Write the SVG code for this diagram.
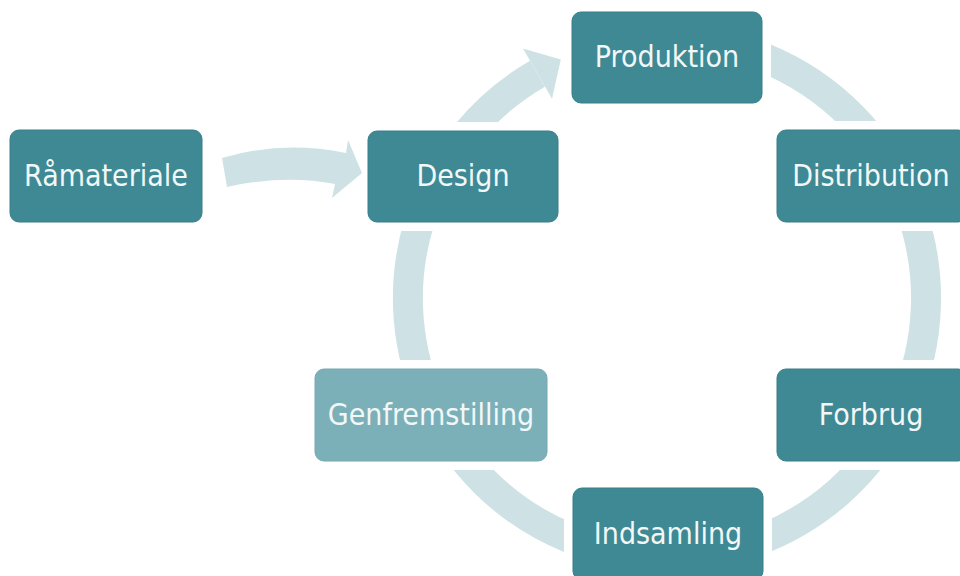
<svg xmlns="http://www.w3.org/2000/svg" width="960" height="576" viewBox="0 0 960 576">
  <style>
    .box { fill: #3E8994; stroke: #367F8A; stroke-width: 1; }
    .box.light { fill: #7BB0B9; stroke: #74A9B2; }
    .lbl { font-family: "DejaVu Sans Condensed", "DejaVu Sans", "Liberation Sans", sans-serif; font-stretch: condensed; font-size: 30px; fill: #F2F7F7; text-anchor: middle; }
    .ring { fill: none; stroke: #CEE2E6; stroke-width: 30; }
    .flow { fill: #CEE2E6; }
  </style>
  <defs>
    <mask id="gaps" maskUnits="userSpaceOnUse" x="0" y="0" width="960" height="576">
      <rect x="0" y="0" width="960" height="576" fill="#fff"/>
      <rect x="359" y="122" width="208" height="109" rx="16" fill="#000"/>
      <rect x="563" y="3" width="208" height="109" rx="16" fill="#000"/>
      <rect x="768" y="121" width="208" height="110" rx="16" fill="#000"/>
      <rect x="768" y="360" width="208" height="110" rx="16" fill="#000"/>
      <rect x="306" y="360" width="250" height="110" rx="16" fill="#000"/>
      <rect x="564" y="479" width="208" height="110" rx="16" fill="#000"/>
    </mask>
  </defs>
  <g id="connectors">
    <path class="ring" mask="url(#gaps)" d="M578.4,54.6 A259,259 0 0 1 755.6,541.4 A259,259 0 0 1 537.5,73.7"/>
    <polygon class="flow" points="523,48.6 560.8,59.6 552,98.8"/>
    <path class="flow" d="M222,158 Q282,140 346,153 L348,140 L362,173 L332,198 L335,184 Q285,174 227,187 Z"/>
  </g>
  <g id="node-ramateriale">
    <rect class="box" x="10" y="130" width="192" height="92" rx="9"/>
    <text class="lbl" x="106" y="186">Råmateriale</text>
  </g>
  <g id="node-design">
    <rect class="box" x="368" y="131" width="190" height="91" rx="9"/>
    <text class="lbl" x="463" y="186">Design</text>
  </g>
  <g id="node-produktion">
    <rect class="box" x="572" y="12" width="190" height="91" rx="9"/>
    <text class="lbl" x="667" y="67">Produktion</text>
  </g>
  <g id="node-distribution">
    <rect class="box" x="777" y="130" width="190" height="92" rx="9"/>
    <text class="lbl" x="871" y="186">Distribution</text>
  </g>
  <g id="node-forbrug">
    <rect class="box" x="777" y="369" width="190" height="92" rx="9"/>
    <text class="lbl" x="871" y="425">Forbrug</text>
  </g>
  <g id="node-indsamling">
    <rect class="box" x="573" y="488" width="190" height="92" rx="9"/>
    <text class="lbl" x="668" y="544">Indsamling</text>
  </g>
  <g id="node-genfremstilling">
    <rect class="box light" x="315" y="369" width="232" height="92" rx="9"/>
    <text class="lbl" x="431" y="425">Genfremstilling</text>
  </g>
</svg>
